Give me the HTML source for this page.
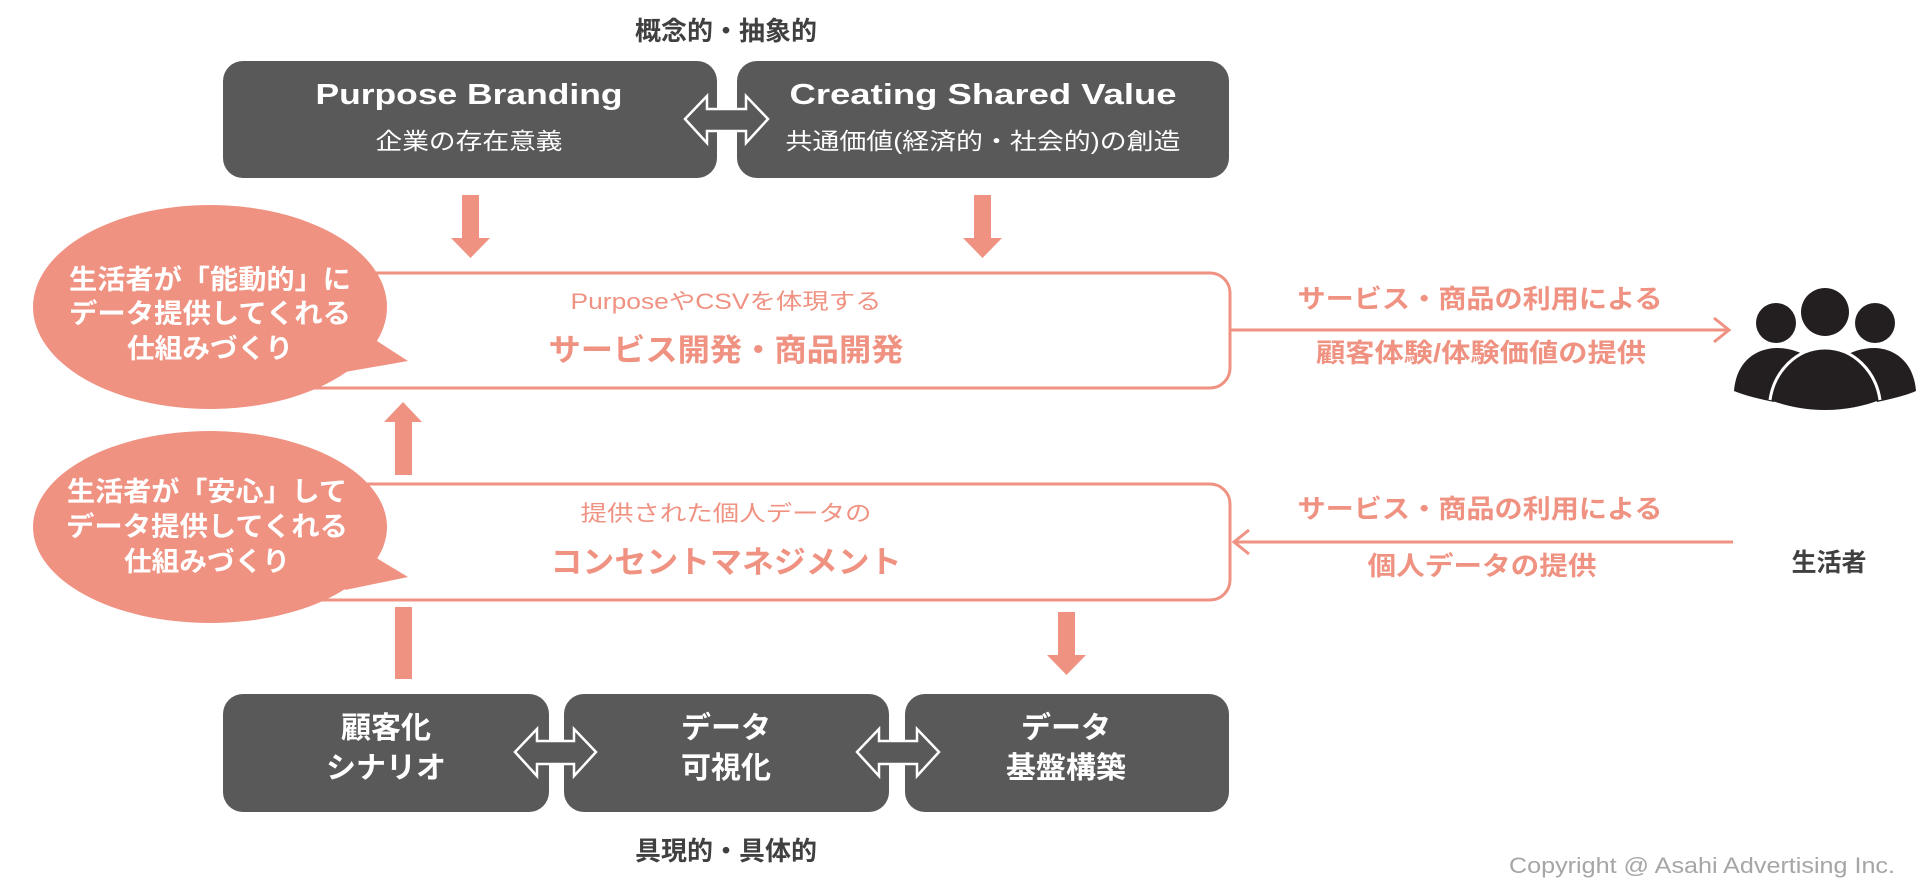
<!DOCTYPE html>
<html><head><meta charset="utf-8">
<style>
html,body{margin:0;padding:0;background:#fff;}
svg{display:block;}
text{font-family:"Liberation Sans","Noto Sans CJK JP",sans-serif;}
</style></head>
<body>
<svg width="1929" height="887" viewBox="0 0 1929 887" xmlns="http://www.w3.org/2000/svg">
<!-- top title -->
<text x="726" y="40" font-size="26" font-weight="bold" fill="#404040" text-anchor="middle">概念的・抽象的</text>

<!-- top boxes -->
<rect x="223" y="61" width="494" height="117" rx="20" fill="#595959"/>
<rect x="737" y="61" width="492" height="117" rx="20" fill="#595959"/>
<text x="469" y="104" font-size="29" font-weight="bold" fill="#fff" text-anchor="middle" textLength="307" lengthAdjust="spacingAndGlyphs">Purpose Branding</text>
<text x="469" y="149" font-size="23" fill="#fff" text-anchor="middle" textLength="187" lengthAdjust="spacingAndGlyphs">企業の存在意義</text>
<text x="983" y="104" font-size="29" font-weight="bold" fill="#fff" text-anchor="middle" textLength="387" lengthAdjust="spacingAndGlyphs">Creating Shared Value</text>
<text x="983" y="149" font-size="23" fill="#fff" text-anchor="middle" textLength="395" lengthAdjust="spacingAndGlyphs">共通価値(経済的・社会的)の創造</text>
<!-- top double arrow -->
<path d="M685 119 L707 96 L707 109 L746 109 L746 96 L768 119 L746 143 L746 131 L707 131 L707 143 Z" fill="#595959" stroke="#fff" stroke-width="2.5" stroke-linejoin="miter"/>

<!-- down arrows from top -->
<g fill="#f09282">
<rect x="462" y="195" width="17" height="44"/>
<path d="M451 238 L490 238 L470.5 258 Z"/>
<rect x="974" y="195" width="17" height="44"/>
<path d="M963 238 L1002 238 L982.5 258 Z"/>
</g>

<!-- service box -->
<rect x="250" y="273" width="980" height="115" rx="20" fill="none" stroke="#f09282" stroke-width="3"/>
<text x="726" y="309" font-size="22" fill="#f09282" text-anchor="middle" textLength="311" lengthAdjust="spacingAndGlyphs">PurposeやCSVを体現する</text>
<text x="726" y="361" font-size="31" font-weight="bold" fill="#f09282" text-anchor="middle" textLength="355" lengthAdjust="spacingAndGlyphs">サービス開発・商品開発</text>

<!-- consent box -->
<rect x="250" y="484" width="980" height="116" rx="20" fill="none" stroke="#f09282" stroke-width="3"/>
<text x="726" y="521" font-size="22" fill="#f09282" text-anchor="middle" textLength="291" lengthAdjust="spacingAndGlyphs">提供された個人データの</text>
<text x="726" y="573" font-size="31" font-weight="bold" fill="#f09282" text-anchor="middle" textLength="351" lengthAdjust="spacingAndGlyphs">コンセントマネジメント</text>

<!-- up arrow & line -->
<g fill="#f09282">
<path d="M384 422 L422 422 L403 402 Z"/>
<rect x="395" y="421" width="17" height="54"/>
<rect x="395" y="607" width="17" height="72"/>
<rect x="1058" y="612" width="17" height="44"/>
<path d="M1047 655 L1086 655 L1066.5 675 Z"/>
</g>

<!-- bubbles -->
<g fill="#f09282">
<ellipse cx="210" cy="307" rx="177" ry="102"/>
<path d="M360 330 L408 361 L345 372 Z"/>
<ellipse cx="210" cy="527" rx="177" ry="96"/>
<path d="M360 548 L408 577 L345 590 Z"/>
</g>
<g font-size="27" font-weight="bold" fill="#fff" text-anchor="middle">
<text x="210" y="289" textLength="282" lengthAdjust="spacingAndGlyphs">生活者が「能動的」に</text>
<text x="210" y="323" textLength="282" lengthAdjust="spacingAndGlyphs">データ提供してくれる</text>
<text x="210" y="358" textLength="166" lengthAdjust="spacingAndGlyphs">仕組みづくり</text>
<text x="207" y="501" textLength="280" lengthAdjust="spacingAndGlyphs">生活者が「安心」して</text>
<text x="207" y="536" textLength="282" lengthAdjust="spacingAndGlyphs">データ提供してくれる</text>
<text x="207" y="571" textLength="166" lengthAdjust="spacingAndGlyphs">仕組みづくり</text>
</g>

<!-- bottom boxes -->
<rect x="223" y="694" width="326" height="118" rx="20" fill="#595959"/>
<rect x="564" y="694" width="325" height="118" rx="20" fill="#595959"/>
<rect x="905" y="694" width="324" height="118" rx="20" fill="#595959"/>
<g font-size="30" font-weight="bold" fill="#fff" text-anchor="middle">
<text x="386" y="738">顧客化</text>
<text x="386" y="778">シナリオ</text>
<text x="726" y="738">データ</text>
<text x="726" y="778">可視化</text>
<text x="1066" y="738">データ</text>
<text x="1066" y="778">基盤構築</text>
</g>
<path d="M515 752 L537 729 L537 741 L574 741 L574 729 L596 752 L574 776 L574 764 L537 764 L537 776 Z" fill="#595959" stroke="#fff" stroke-width="2.5"/>
<path d="M857 752 L879 729 L879 741 L917 741 L917 729 L939 752 L917 776 L917 764 L879 764 L879 776 Z" fill="#595959" stroke="#fff" stroke-width="2.5"/>

<text x="726" y="860" font-size="26" font-weight="bold" fill="#404040" text-anchor="middle">具現的・具体的</text>

<!-- right arrows -->
<g stroke="#f09282" stroke-width="3" fill="none">
<line x1="1230" y1="330" x2="1728" y2="330"/>
<polyline points="1714,318 1729,330 1714,342"/>
<line x1="1233" y1="542" x2="1733" y2="542"/>
<polyline points="1249,530 1234,542 1249,554"/>
</g>
<g font-size="26" font-weight="bold" fill="#f09282" text-anchor="middle">
<text x="1480" y="308" textLength="365" lengthAdjust="spacingAndGlyphs">サービス・商品の利用による</text>
<text x="1481" y="362" textLength="330" lengthAdjust="spacingAndGlyphs">顧客体験/体験価値の提供</text>
<text x="1480" y="518" textLength="365" lengthAdjust="spacingAndGlyphs">サービス・商品の利用による</text>
<text x="1482" y="575" textLength="229" lengthAdjust="spacingAndGlyphs">個人データの提供</text>
</g>

<!-- people icon -->
<g fill="#231f20">
<circle cx="1776" cy="323" r="20"/>
<circle cx="1875" cy="323" r="20"/>
<path d="M1734 391 C1736 365 1752 349 1776 348 C1790 348 1800 352 1808 357 C1790 368 1778 385 1774 402 C1760 399 1746 396 1734 391 Z"/>
<path d="M1916 391 C1914 365 1898 349 1875 348 C1861 348 1851 352 1843 357 C1861 368 1873 385 1877 402 C1891 399 1905 396 1916 391 Z"/>
<circle cx="1825" cy="312" r="24"/>
<path d="M1770 400 C1774 372 1796 348 1825 348 C1854 348 1876 372 1880 400 C1864 406 1846 410 1825 410 C1804 410 1786 406 1770 400 Z"/>
</g>
<path d="M1770 400 C1774 372 1796 348 1825 348 C1854 348 1876 372 1880 400" fill="none" stroke="#fff" stroke-width="3"/>

<text x="1829" y="571" font-size="25" font-weight="bold" fill="#404040" text-anchor="middle">生活者</text>

<text x="1895" y="873" font-size="22" fill="#a6a6a6" text-anchor="end" textLength="386" lengthAdjust="spacingAndGlyphs">Copyright @ Asahi Advertising Inc.</text>
</svg>
</body></html>
